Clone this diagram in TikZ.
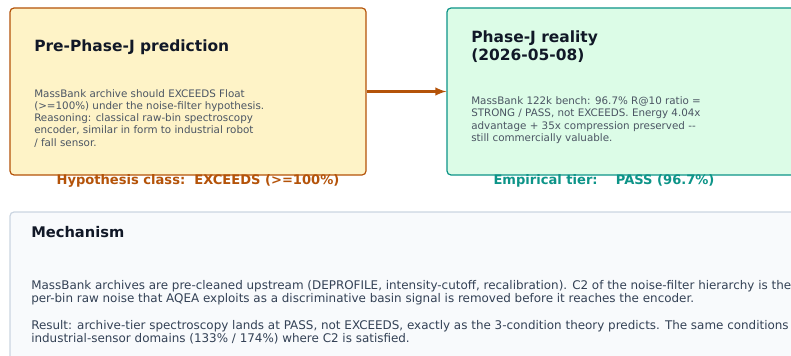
\documentclass[tikz,border=0pt]{standalone}
\usepackage{fontspec}
\setmainfont{DejaVu Sans}
\definecolor{predfill}{HTML}{FEF3C7}
\definecolor{preddraw}{HTML}{B45309}
\definecolor{realfill}{HTML}{DCFCE7}
\definecolor{realdraw}{HTML}{0D9488}
\definecolor{mechfill}{HTML}{F8FAFC}
\definecolor{mechdraw}{HTML}{CBD5E1}
\definecolor{titlecol}{HTML}{111827}
\definecolor{bodycol}{HTML}{4B5563}
\definecolor{mechcol}{HTML}{334155}

\begin{document}
\begin{tikzpicture}[x=0.75pt,y=-0.75pt]
\tikzstyle{card}=[rectangle,rounded corners=3pt,line width=0.9pt,inner sep=0pt]
\tikzstyle{heading}=[anchor=north west,inner sep=0pt,align=left,text=titlecol,font=\bfseries\fontsize{11.6}{13.7}\selectfont]
\tikzstyle{blurb}=[anchor=north west,inner sep=0pt,align=left,text=bodycol,font=\fontsize{7.75}{9.2}\selectfont]
\tikzstyle{verdict}=[anchor=north,inner sep=0pt,font=\bfseries\fontsize{9.8}{12}\selectfont]
\useasboundingbox (0,0) rectangle (791,356);
\clip (0,0) rectangle (791,356);
% the two cards
\node [card,fill=predfill,draw=preddraw,minimum width=267pt,minimum height=125.25pt] (pred) at (188,91.5) {};
\node [card,fill=realfill,draw=realdraw,minimum width=270pt,minimum height=125.25pt] (real) at (627,91.5) {};
\draw [preddraw,line width=1.8pt,-latex] (pred.east) -- (real.west);
\node [heading] (predtitle) at (34,39.5) {Pre-Phase-J prediction};
\node [blurb] (predtext) at (34,89) {MassBank archive should EXCEEDS Float\\(>=100\%) under the noise-filter hypothesis.\\Reasoning: classical raw-bin spectroscopy\\encoder, similar in form to industrial robot\\/ fall sensor.};
\node [heading] (realtitle) at (471,30) {Phase-J reality\\(2026-05-08)};
\node [blurb] (realtext) at (471,96.5) {MassBank 122k bench: 96.7\% R@10 ratio =\\STRONG / PASS, not EXCEEDS. Energy 4.04x\\advantage + 35x compression preserved -{}-\\still commercially valuable.};
\node [verdict,text=preddraw] (predtier) at (198,174) {Hypothesis class:\ \ EXCEEDS (>=100\%)};
\node [verdict,text=realdraw] (realtier) at (604,174) {Empirical tier:\ \ \ \ PASS (96.7\%)};
% mechanism panel
\node [card,fill=mechfill,draw=mechdraw,minimum width=600pt,minimum height=118.5pt] (mech) at (410,291) {};
\node [heading,font=\bfseries\fontsize{11}{13}\selectfont] (mechtitle) at (31,226) {Mechanism};
\node [blurb,text=mechcol,font=\fontsize{8.95}{10.1}\selectfont] (mechtext) at (31,280) {MassBank archives are pre-cleaned upstream (DEPROFILE, intensity-cutoff, recalibration). C2 of the noise-filter hierarchy is the\\per-bin raw noise that AQEA exploits as a discriminative basin signal is removed before it reaches the encoder.};
\node [blurb,text=mechcol,font=\fontsize{8.95}{10.1}\selectfont] (mechresult) at (31,320) {Result: archive-tier spectroscopy lands at PASS, not EXCEEDS, exactly as the 3-condition theory predicts. The same conditions s\\industrial-sensor domains (133\% / 174\%) where C2 is satisfied.};
\end{tikzpicture}
\end{document}
